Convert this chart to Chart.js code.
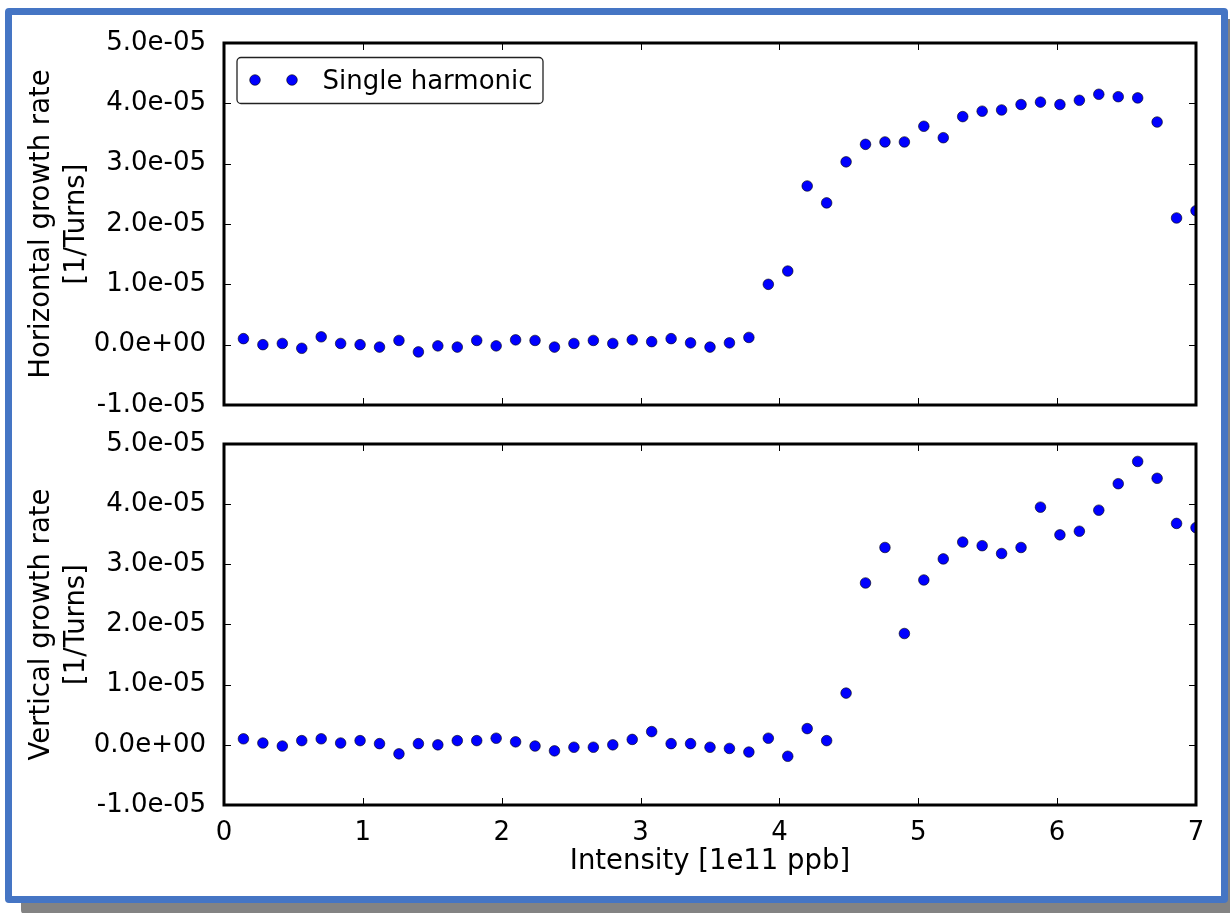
<!DOCTYPE html>
<html>
<head>
<meta charset="utf-8">
<script src="https://cdn.jsdelivr.net/npm/chart.js@4/dist/chart.umd.min.js"></script>
<style>
  body { margin: 0; background: #fff; width: 1230px; height: 913px; overflow: hidden; position: relative; }
  #frame {
    position: absolute; left: 5px; top: 8px; width: 1223px; height: 895px;
    box-sizing: border-box; border: 7.5px solid #4575c4; border-radius: 4px;
    background: #fff; box-shadow: 16px 11px 0 0 #838383;
  }
  canvas { position: absolute; left: 0; }
  #topChart { top: 0; }
  #bottomChart { top: 425px; }
</style>
</head>
<body>
<div id="frame"></div>
<canvas id="topChart" width="1230" height="425"></canvas>
<canvas id="bottomChart" width="1230" height="488"></canvas>
<script>
// Datos
const intensity = [0.14, 0.28, 0.42, 0.56, 0.70, 0.84, 0.98, 1.12, 1.26, 1.40,
  1.54, 1.68, 1.82, 1.96, 2.10, 2.24, 2.38, 2.52, 2.66, 2.80,
  2.94, 3.08, 3.22, 3.36, 3.50, 3.64, 3.78, 3.92, 4.06, 4.20,
  4.34, 4.48, 4.62, 4.76, 4.90, 5.04, 5.18, 5.32, 5.46, 5.60,
  5.74, 5.88, 6.02, 6.16, 6.30, 6.44, 6.58, 6.72, 6.86, 7.00];

const horizontalRate = [0.10e-5, 0.00e-5, 0.02e-5, -0.06e-5, 0.13e-5, 0.02e-5, 0.00e-5, -0.04e-5, 0.07e-5, -0.12e-5,
  -0.02e-5, -0.04e-5, 0.07e-5, -0.02e-5, 0.08e-5, 0.07e-5, -0.04e-5, 0.02e-5, 0.07e-5, 0.02e-5,
  0.08e-5, 0.05e-5, 0.10e-5, 0.03e-5, -0.04e-5, 0.03e-5, 0.12e-5, 1.00e-5, 1.22e-5, 2.63e-5,
  2.35e-5, 3.03e-5, 3.32e-5, 3.36e-5, 3.36e-5, 3.62e-5, 3.43e-5, 3.78e-5, 3.87e-5, 3.89e-5,
  3.98e-5, 4.02e-5, 3.98e-5, 4.05e-5, 4.15e-5, 4.11e-5, 4.09e-5, 3.69e-5, 2.10e-5, 2.22e-5];

const verticalRate = [0.10e-5, 0.03e-5, -0.02e-5, 0.07e-5, 0.10e-5, 0.03e-5, 0.07e-5, 0.02e-5, -0.15e-5, 0.02e-5,
  0.00e-5, 0.07e-5, 0.07e-5, 0.11e-5, 0.05e-5, -0.02e-5, -0.10e-5, -0.04e-5, -0.04e-5, 0.00e-5,
  0.09e-5, 0.22e-5, 0.02e-5, 0.02e-5, -0.04e-5, -0.06e-5, -0.12e-5, 0.11e-5, -0.19e-5, 0.27e-5,
  0.07e-5, 0.86e-5, 2.69e-5, 3.28e-5, 1.85e-5, 2.74e-5, 3.09e-5, 3.37e-5, 3.31e-5, 3.18e-5,
  3.28e-5, 3.95e-5, 3.49e-5, 3.55e-5, 3.90e-5, 4.34e-5, 4.71e-5, 4.43e-5, 3.68e-5, 3.61e-5];

const xTicks = [0, 1, 2, 3, 4, 5, 6, 7];
const yTicks = [-1e-5, 0, 1e-5, 2e-5, 3e-5, 4e-5, 5e-5];
const legendLabel = 'Single harmonic';

Chart.defaults.font.family = '"DejaVu Sans", sans-serif';
Chart.defaults.color = '#000';

// formato tipo matplotlib: 5.0e-05
function sciLabel(value) {
  if (Math.abs(value) < 1e-12) return '0.0e+00';
  const parts = value.toExponential(1).split('e');
  const exp = parseInt(parts[1], 10);
  return parts[0] + 'e' + (exp < 0 ? '-' : '+') + String(Math.abs(exp)).padStart(2, '0');
}

// marco negro y ticks hacia adentro en los cuatro lados
const frameTicks = {
  id: 'frameTicks',
  afterDatasetsDraw(chart) {
    const { ctx, chartArea: a, scales } = chart;
    ctx.save();
    ctx.strokeStyle = '#000';
    ctx.lineWidth = 1;
    ctx.beginPath();
    xTicks.forEach((t) => {
      const px = Math.round(scales.x.getPixelForValue(t)) + 0.5;
      ctx.moveTo(px, a.bottom); ctx.lineTo(px, a.bottom - 7);
      ctx.moveTo(px, a.top); ctx.lineTo(px, a.top + 7);
    });
    yTicks.forEach((t) => {
      const py = Math.round(scales.y.getPixelForValue(t)) + 0.5;
      ctx.moveTo(a.left, py); ctx.lineTo(a.left + 7, py);
      ctx.moveTo(a.right, py); ctx.lineTo(a.right - 7, py);
    });
    ctx.stroke();
    ctx.lineWidth = 3;
    ctx.strokeRect(a.left, a.top, a.right - a.left, a.bottom - a.top);
    ctx.restore();
  }
};

// leyenda con dos marcadores como en matplotlib
const pointLegend = {
  id: 'pointLegend',
  afterDraw(chart) {
    if (!chart.options.plugins.pointLegend.show) return;
    const ctx = chart.ctx;
    ctx.save();
    ctx.beginPath();
    ctx.roundRect(237, 57.5, 306, 46, 4);
    ctx.fillStyle = '#fff';
    ctx.fill();
    ctx.strokeStyle = '#222';
    ctx.lineWidth = 1.3;
    ctx.stroke();
    [255, 292].forEach((cx) => {
      ctx.beginPath();
      ctx.arc(cx, 80, 5.3, 0, Math.PI * 2);
      ctx.fillStyle = '#0000ff';
      ctx.fill();
      ctx.lineWidth = 0.6;
      ctx.strokeStyle = '#000';
      ctx.stroke();
    });
    ctx.fillStyle = '#000';
    ctx.font = '26px "DejaVu Sans"';
    ctx.textBaseline = 'alphabetic';
    ctx.fillText(legendLabel, 322.5, 88.5);
    ctx.restore();
  }
};

function makeChart(canvasId, values, yTitle, isBottom) {
  const ctx = document.getElementById(canvasId).getContext('2d');
  return new Chart(ctx, {
    type: 'scatter',
    data: {
      datasets: [{
        label: legendLabel,
        data: intensity.map((x, i) => ({ x: x, y: values[i] })),
        backgroundColor: '#0000ff',
        borderColor: '#000',
        borderWidth: 0.6,
        pointRadius: 5.3,
        clip: 0
      }]
    },
    options: {
      responsive: false,
      animation: false,
      devicePixelRatio: 1,
      layout: {
        padding: isBottom ? { left: 0, right: 34, top: 19, bottom: 0 } : { left: 0, right: 34, top: 43, bottom: 20 }
      },
      plugins: {
        legend: { display: false },
        tooltip: { enabled: false },
        pointLegend: { show: !isBottom }
      },
      scales: {
        x: {
          type: 'linear',
          min: 0,
          max: 7,
          grid: { display: false, drawTicks: false },
          border: { display: false },
          ticks: {
            display: isBottom,
            stepSize: 1,
            padding: 13,
            font: { size: 26 }
          },
          title: {
            display: isBottom,
            text: 'Intensity [1e11 ppb]',
            font: { size: 27.5 },
            padding: { top: 0, bottom: 34.5 }
          },
          afterFit(scale) {
            scale.height = isBottom ? 108 : 0;
            scale.paddingLeft = 0;
            scale.paddingRight = 0;
          }
        },
        y: {
          type: 'linear',
          min: -1e-5,
          max: 5e-5,
          grid: { display: false, drawTicks: false },
          border: { display: false },
          ticks: {
            stepSize: 1e-5,
            padding: 18,
            font: { size: 26 },
            callback: (value) => sciLabel(value)
          },
          title: {
            display: true,
            text: yTitle,
            font: { size: 27.5, lineHeight: 1.27 },
            padding: { top: 24.5, bottom: 0 }
          },
          afterFit(scale) {
            scale.width = 224;
            scale.paddingTop = 0;
            scale.paddingBottom = 0;
          }
        }
      }
    },
    plugins: [frameTicks, pointLegend]
  });
}

makeChart('topChart', horizontalRate, ['Horizontal growth rate', '[1/Turns]'], false);
makeChart('bottomChart', verticalRate, ['Vertical growth rate', '[1/Turns]'], true);
</script>
</body>
</html>
